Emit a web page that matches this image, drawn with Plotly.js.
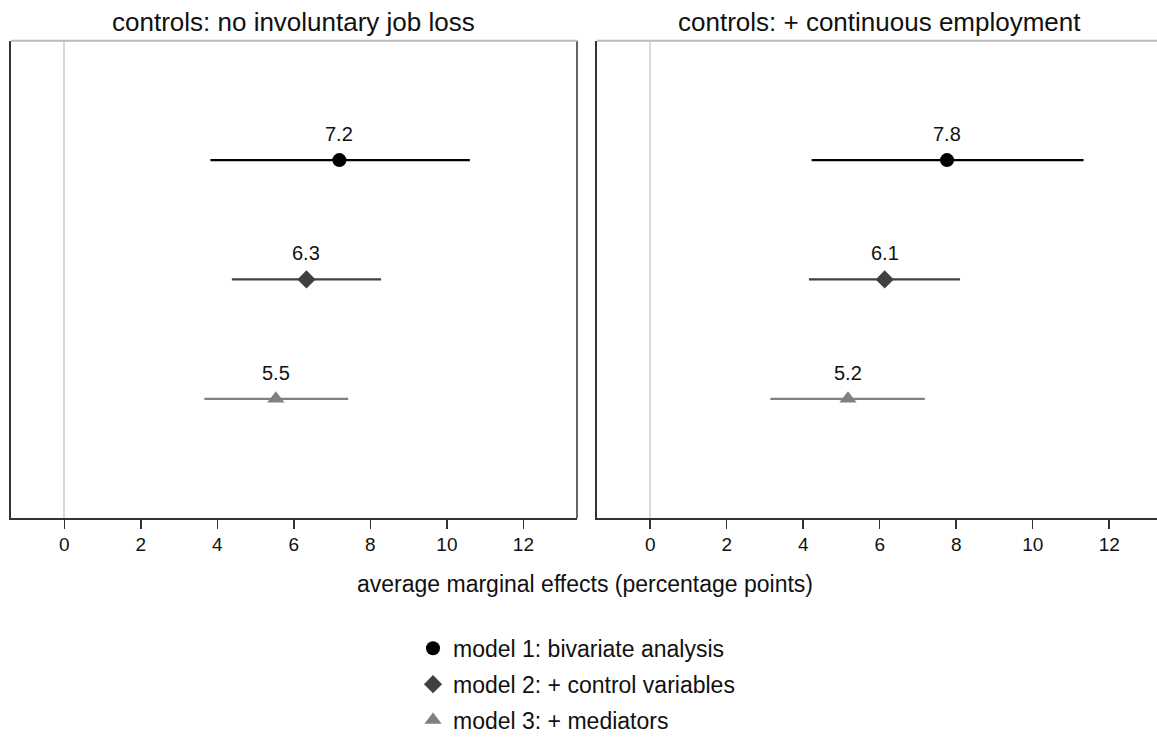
<!DOCTYPE html>
<html>
<head>
<meta charset="utf-8">
<script src="https://cdn.plot.ly/plotly-3.0.1.min.js"></script>
<style>
  html, body { margin: 0; padding: 0; background: #ffffff; }
  #chart { width: 1157px; height: 742px; }
</style>
</head>
<body>
<div id="chart"></div>
<script>
// ---------------- data ----------------
const panelTitles = ['controls: no involuntary job loss', 'controls: + continuous employment'];
const modelNames = ['model 1: bivariate analysis', 'model 2: + control variables', 'model 3: + mediators'];
const rowPos = [3, 2, 1];

const leftEst = [7.19, 6.33, 5.53];
const leftLo  = [3.82, 4.38, 3.66];
const leftHi  = [10.60, 8.28, 7.42];

const rightEst = [7.76, 6.13, 5.17];
const rightLo  = [4.22, 4.15, 3.14];
const rightHi  = [11.33, 8.10, 7.18];

const xTicks = [0, 2, 4, 6, 8, 10, 12];

// ---------------- styles ----------------
const FONT = 'Liberation Sans, Arial, Helvetica, sans-serif';
const colors = ['#000000', '#404040', '#808080'];
const symbols = ['circle', 'diamond', 'triangle-up'];
const msizes = [14, 14, 15];
const W = 1157, H = 742;

const traces = [];
const annotations = [];

function addPanel(est, lo, hi, xa, ya, showLeg) {
  for (let i = 0; i < est.length; i++) {
    traces.push({
      type: 'scatter', mode: 'lines', xaxis: xa, yaxis: ya,
      x: [lo[i], hi[i]], y: [rowPos[i], rowPos[i]],
      line: { color: colors[i], width: 2.2 },
      showlegend: false, hoverinfo: 'skip'
    });
  }
  for (let i = 0; i < est.length; i++) {
    traces.push({
      type: 'scatter', mode: 'markers', xaxis: xa, yaxis: ya,
      x: [est[i]], y: [rowPos[i]], name: modelNames[i],
      legendgroup: 'g' + i,
      marker: { color: colors[i], symbol: symbols[i], size: msizes[i], line: { width: 0 } },
      showlegend: showLeg
    });
    annotations.push({
      xref: xa, yref: ya, x: est[i], y: rowPos[i], yshift: 26,
      xanchor: 'center', yanchor: 'middle',
      text: est[i].toFixed(1), showarrow: false,
      font: { family: FONT, size: 20, color: '#111111' }
    });
  }
}
addPanel(leftEst, leftLo, leftHi, 'x', 'y', true);
addPanel(rightEst, rightLo, rightHi, 'x2', 'y2', false);

const d1 = [10.7 / W, 577 / W];
const d2 = [596.7 / W, 1];
const yd = [(H - 534) / H, (H - 42) / H];

function xAxis(domain, range, anchor) {
  return {
    domain: domain, range: range, anchor: anchor,
    tickvals: xTicks, ticktext: xTicks.map(String),
    ticks: 'outside', ticklen: 9, tickwidth: 1.5, tickcolor: '#333333',
    tickfont: { family: FONT, size: 19, color: '#111111' },
    showgrid: false, zeroline: true, zerolinecolor: '#d9d9d9', zerolinewidth: 2,
    showline: true, linecolor: '#333333', linewidth: 1.5, mirror: false,
    fixedrange: true
  };
}
function yAxis(domain, anchor) {
  return {
    domain: domain, range: [0, 4], anchor: anchor,
    showticklabels: false, ticks: '', showgrid: false, zeroline: false,
    showline: true, linecolor: '#333333', linewidth: 1.5, mirror: false,
    fixedrange: true
  };
}

annotations.push({
  xref: 'paper', yref: 'paper', x: (10.7 + 577) / 2 / W, y: 1 - 23 / H,
  xanchor: 'center', yanchor: 'middle',
  text: panelTitles[0], showarrow: false, font: { family: FONT, size: 26, color: '#111111' }
});
annotations.push({
  xref: 'paper', yref: 'paper', x: (596.7 + 1163) / 2 / W, y: 1 - 23 / H,
  xanchor: 'center', yanchor: 'middle',
  text: panelTitles[1], showarrow: false, font: { family: FONT, size: 26, color: '#111111' }
});
annotations.push({
  xref: 'paper', yref: 'paper', x: 585 / W, y: 1 - 602 / H,
  xanchor: 'center', yanchor: 'middle',
  text: 'average marginal effects (percentage points)', showarrow: false,
  font: { family: FONT, size: 23, color: '#111111' }
});

const shapes = [
  { type: 'line', xref: 'x domain', yref: 'y domain', x0: 1, x1: 1, y0: 0, y1: 1,
    line: { color: '#333333', width: 1.5 } },
  { type: 'line', xref: 'x domain', yref: 'y domain', x0: 0, x1: 1, y0: 1, y1: 1,
    line: { color: '#bdbdbd', width: 2 } },
  { type: 'line', xref: 'x2 domain', yref: 'y2 domain', x0: 0, x1: 1, y0: 1, y1: 1,
    line: { color: '#bdbdbd', width: 2 } }
];

const layout = {
  width: W, height: H,
  margin: { l: 0, r: 0, t: 0, b: 0 },
  paper_bgcolor: '#ffffff', plot_bgcolor: '#ffffff',
  font: { family: FONT, color: '#111111' },
  xaxis: xAxis(d1, [-1.4, 13.4], 'y'),
  yaxis: yAxis(yd, 'x'),
  xaxis2: xAxis(d2, [-1.4, 13.25], 'y2'),
  yaxis2: yAxis(yd, 'x2'),
  showlegend: true,
  legend: {
    x: 413 / W, xanchor: 'left', y: 1 - 646 / H, yanchor: 'top',
    orientation: 'v', traceorder: 'grouped',
    font: { family: FONT, size: 23, color: '#111111' },
    bgcolor: 'rgba(0,0,0,0)', borderwidth: 0, tracegroupgap: 3, itemclick: false
  },
  annotations: annotations,
  shapes: shapes
};

Plotly.newPlot('chart', traces, layout, { displayModeBar: false, staticPlot: true });
</script>
</body>
</html>
